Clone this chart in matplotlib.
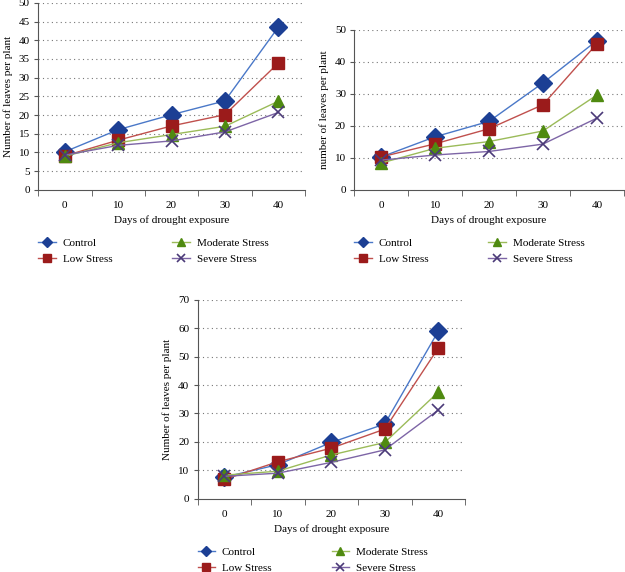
import numpy as np
import matplotlib.pyplot as plt

# Data
days = ["0", "10", "20", "30", "40"]
series_names = ["Control", "Low Stress", "Moderate Stress", "Severe Stress"]

a_control = [10.2, 16.1, 20.1, 23.8, 43.5]
a_low = [9.1, 13.3, 17.1, 20.1, 33.9]
a_moderate = [9.0, 12.6, 14.8, 17.0, 23.7]
a_severe = [9.3, 11.9, 13.1, 15.5, 20.7]

b_control = [10.3, 16.6, 21.4, 33.4, 46.6]
b_low = [10.3, 14.4, 19.1, 26.6, 45.6]
b_moderate = [8.4, 13.0, 15.1, 18.4, 29.6]
b_severe = [9.3, 10.9, 12.0, 14.3, 22.4]

c_control = [7.6, 12.0, 19.8, 26.3, 58.9]
c_low = [6.8, 13.0, 17.8, 24.5, 53.0]
c_moderate = [8.3, 9.7, 15.4, 19.8, 37.5]
c_severe = [7.9, 9.0, 12.8, 17.2, 31.2]

plt.rcParams['font.family'] = ['Liberation Serif', 'DejaVu Serif']

# marker style, marker colour, line colour per series
styles = [
    ("D", "#1c3f94", "#4a78c8"),
    ("s", "#9b1b1b", "#c0504d"),
    ("^", "#4f8a10", "#9bbb59"),
    ("x", "#4b3a78", "#7d65a6"),
]

FS = 8


def draw_panel(fig, ax, data, ymax, ystep, ylabel):
    x = np.arange(len(days))
    for vals, name, (mk, mcol, lcol) in zip(data, series_names, styles):
        if mk == "x":
            ax.plot(x, vals, color=lcol, linewidth=1.0, marker=mk, markersize=9,
                    markeredgecolor=mcol, markeredgewidth=1.2, label=name, zorder=3)
        else:
            ax.plot(x, vals, color=lcol, linewidth=1.0, marker=mk, markersize=9,
                    markerfacecolor=mcol, markeredgecolor=mcol, label=name, zorder=3)
    ax.set_xlim(-0.5, len(days) - 0.5)
    ax.set_ylim(0, ymax)
    ax.set_yticks(np.arange(0, ymax + 1, ystep))
    ax.set_xticks(x, days)
    ax.set_xticks(np.arange(-0.5, len(days)), minor=True)
    ax.tick_params(axis="x", which="major", length=0, pad=8, labelsize=FS)
    ax.tick_params(axis="x", which="minor", length=4, color="#555555", direction="out")
    ax.tick_params(axis="y", length=3, color="#555555", labelsize=FS, pad=3)
    for yv in np.arange(ystep, ymax + 1, ystep):
        ax.axhline(yv, color="#777777", linewidth=0.8, linestyle=(0, (1, 3)), zorder=1)
    for s in ["top", "right"]:
        ax.spines[s].set_visible(False)
    for s in ["left", "bottom"]:
        ax.spines[s].set_color("#555555")
        ax.spines[s].set_linewidth(0.8)
    ax.set_xlabel("Days of drought exposure", fontsize=FS, labelpad=4)
    ax.set_ylabel(ylabel, fontsize=FS, labelpad=4)
    # legend sits under the axis, starting at the y-axis
    pos = ax.get_position()
    ax.legend(loc="upper left", bbox_to_anchor=(pos.x0, pos.y0 - 48 / 572),
              bbox_transform=fig.transFigure, ncol=2, frameon=False,
              fontsize=FS, markerscale=0.6, handlelength=1.6, columnspacing=5.4,
              labelspacing=0.6, handletextpad=0.6, borderpad=0, borderaxespad=0)


fig = plt.figure(figsize=(6.25, 5.72), dpi=100)

ax1 = fig.add_axes([0.061, 0.668, 0.427, 0.327])
draw_panel(fig, ax1, [a_control, a_low, a_moderate, a_severe], 50, 5, "Number of leaves per plant")

ax2 = fig.add_axes([0.567, 0.668, 0.431, 0.28])
draw_panel(fig, ax2, [b_control, b_low, b_moderate, b_severe], 50, 10, "number of leaves per plant")

ax3 = fig.add_axes([0.316, 0.128, 0.428, 0.348])
draw_panel(fig, ax3, [c_control, c_low, c_moderate, c_severe], 70, 10, "Number of leaves per plant")

fig.savefig("out.png", dpi=100)
